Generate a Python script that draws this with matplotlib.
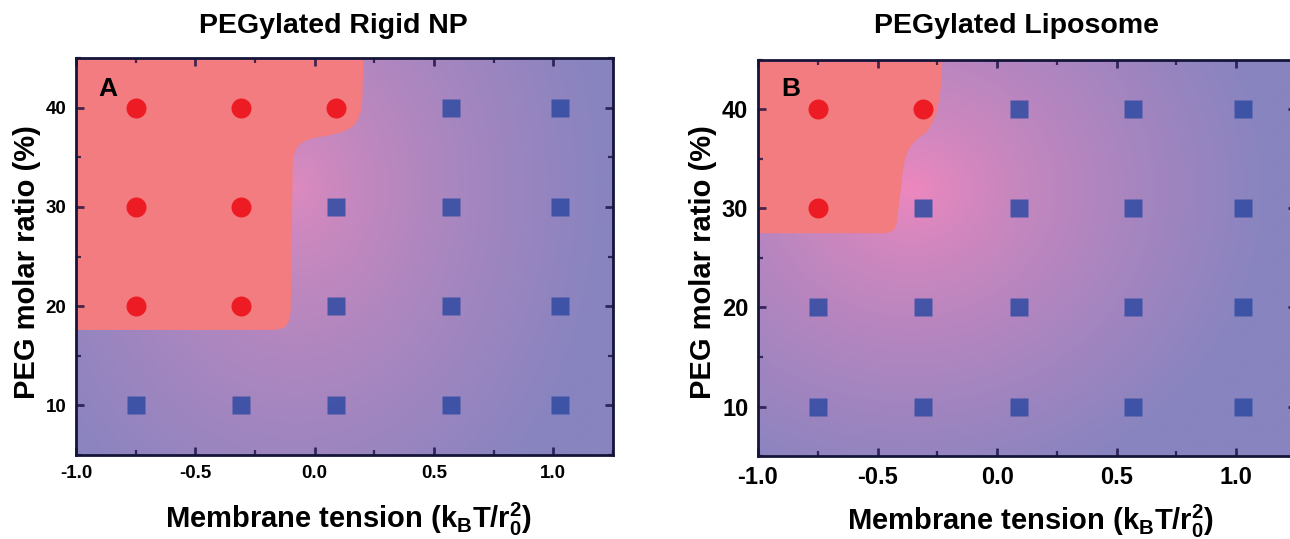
import numpy as np
import matplotlib
matplotlib.use("Agg")
import matplotlib.pyplot as plt
from matplotlib.path import Path
from matplotlib.patches import PathPatch
from matplotlib.ticker import MultipleLocator

# ---------------- data ----------------
tension = [-0.75, -0.31, 0.09, 0.57, 1.03]      # membrane tension (kBT/r0^2)
peg_ratio = [10, 20, 30, 40]                     # PEG molar ratio (%)
# 1 = circle (red), 0 = square (blue); rows follow peg_ratio, columns follow tension
state_rigid = [
    [0, 0, 0, 0, 0],
    [1, 1, 0, 0, 0],
    [1, 1, 0, 0, 0],
    [1, 1, 1, 0, 0],
]
state_lipo = [
    [0, 0, 0, 0, 0],
    [0, 0, 0, 0, 0],
    [1, 0, 0, 0, 0],
    [1, 1, 0, 0, 0],
]
titles = ["PEGylated Rigid NP", "PEGylated Liposome"]
panel_letters = ["A", "B"]
x_ticks = [-1.0, -0.5, 0.0, 0.5, 1.0]
y_ticks = [10, 20, 30, 40]

# phase boundary outlines (data coords) for red region
verts_A = [(-1.05, 45.5), (0.205, 45.5), (0.20, 41.0),
           (0.195, 38.3), (0.16, 37.7), (0.06, 37.2),
           (-0.06, 36.8), (-0.09, 36.4), (-0.092, 34.0),
           (-0.10, 20.0),
           (-0.10, 17.7), (-0.13, 17.6), (-0.20, 17.6),
           (-1.05, 17.6), (-1.05, 45.5)]
codes_A = [Path.MOVETO, Path.LINETO, Path.LINETO,
           Path.CURVE4, Path.CURVE4, Path.CURVE4,
           Path.CURVE4, Path.CURVE4, Path.CURVE4,
           Path.LINETO,
           Path.CURVE4, Path.CURVE4, Path.CURVE4,
           Path.LINETO, Path.CLOSEPOLY]
verts_B = [(-1.05, 45.5), (-0.228, 45.5),
           (-0.235, 41.0), (-0.245, 39.2), (-0.30, 37.6),
           (-0.37, 36.6), (-0.39, 35.5), (-0.40, 32.5),
           (-0.415, 29.5),
           (-0.42, 27.6), (-0.44, 27.5), (-0.49, 27.5),
           (-1.05, 27.5), (-1.05, 45.5)]
codes_B = [Path.MOVETO, Path.LINETO,
           Path.CURVE4, Path.CURVE4, Path.CURVE4,
           Path.CURVE4, Path.CURVE4, Path.CURVE4,
           Path.LINETO,
           Path.CURVE4, Path.CURVE4, Path.CURVE4,
           Path.LINETO, Path.CLOSEPOLY]

# ---------------- style ----------------
plt.rcParams['font.family'] = ['Liberation Sans', 'DejaVu Sans']
plt.rcParams['font.weight'] = 'bold'
plt.rcParams['mathtext.fontset'] = 'custom'
plt.rcParams['mathtext.rm'] = 'Liberation Sans:bold'
plt.rcParams['mathtext.it'] = 'Liberation Sans:bold'
plt.rcParams['mathtext.default'] = 'rm'

W, H = 1290, 539
fig = plt.figure(figsize=(W / 100, H / 100), dpi=100)

RED_BG = '#F27C80'
CIRCLE = '#ED1C24'
SQUARE = (0.20, 0.30, 0.64, 0.88)
TICKC = (0.06, 0.02, 0.22, 0.75)

axes_px = [(76, 613, 58, 455), (758, 1296, 60, 456)]
grad = [dict(c=(-0.08, 32.0), s=(1.3, 40.0), p=0.7, pink=(224, 138, 190)),
        dict(c=(-0.36, 32.0), s=(1.5, 32.0), p=0.75, pink=(240, 136, 190))]
tick_fs = [13.5, 17]
verts_all = [(verts_A, codes_A), (verts_B, codes_B)]
states = [state_rigid, state_lipo]

xlim = (-1.0, 1.25)
ylim = (5, 45)

for i in range(2):
    l, r, t, b = axes_px[i]
    ax = fig.add_axes([l / W, 1 - b / H, (r - l) / W, (b - t) / H])
    ax.set_xlim(*xlim)
    ax.set_ylim(*ylim)

    # gradient background
    gx = np.linspace(xlim[0], xlim[1], 400)
    gy = np.linspace(ylim[0], ylim[1], 300)
    X, Y = np.meshgrid(gx, gy)
    g = grad[i]
    d = np.sqrt(((X - g['c'][0]) / g['s'][0]) ** 2 + ((Y - g['c'][1]) / g['s'][1]) ** 2)
    tt = np.clip(d, 0, 1) ** g['p']
    pink = np.array(g['pink']) / 255.0
    blue = np.array([136, 132, 192]) / 255.0
    img = pink[None, None, :] * (1 - tt[..., None]) + blue[None, None, :] * tt[..., None]
    ax.imshow(img, extent=[xlim[0], xlim[1], ylim[0], ylim[1]], origin='lower',
              aspect='auto', zorder=0, interpolation='bilinear')

    vv, cc = verts_all[i]
    patch = PathPatch(Path(vv, cc), facecolor=RED_BG, edgecolor='none', zorder=1)
    ax.add_patch(patch)

    st = np.array(states[i])
    for ri, yv in enumerate(peg_ratio):
        for ci, xv in enumerate(tension):
            if st[ri, ci] == 1:
                ax.plot(xv, yv, 'o', ms=14.4, color=CIRCLE, mec='none', zorder=3)
            else:
                ax.plot(xv, yv, 's', ms=12.8, color=SQUARE, mec='none', zorder=3)

    ax.set_xticks(x_ticks)
    ax.set_xticklabels(['%.1f' % v for v in x_ticks])
    ax.set_yticks(y_ticks)
    ax.xaxis.set_minor_locator(MultipleLocator(0.25))
    ax.yaxis.set_minor_locator(MultipleLocator(5))
    ax.tick_params(which='both', direction='in', top=True, right=True, color=TICKC)
    ax.tick_params(which='major', length=6, width=2, labelsize=tick_fs[i], pad=7)
    ax.tick_params(which='minor', length=3.5, width=1.6)
    for lab in ax.get_xticklabels() + ax.get_yticklabels():
        lab.set_fontweight('bold')
    for sp in ax.spines.values():
        sp.set_color('#15153a')
        sp.set_linewidth(2)
        sp.set_zorder(5)

    ax.text(0.041 if i == 0 else 0.044, 0.921 if i == 0 else 0.927, panel_letters[i],
            transform=ax.transAxes, fontsize=19, fontweight='bold',
            ha='left', va='center', zorder=6)

# titles and labels as figure text
fig.text(333 / W, 1 - 26 / H, titles[0], ha='center', va='center', fontsize=20.5, fontweight='bold')
fig.text(1016 / W, 1 - 26 / H, titles[1], ha='center', va='center', fontsize=20.5, fontweight='bold')
xlab = r'Membrane tension ($\mathrm{k_B}$T/$\mathrm{r^2_0}$)'
fig.text(348 / W, 1 - 528 / H, xlab, ha='center', va='baseline', fontsize=21, fontweight='bold')
fig.text(1030 / W, 1 - 530 / H, xlab, ha='center', va='baseline', fontsize=21, fontweight='bold')
ylab = 'PEG molar ratio (%)'
fig.text(27 / W, 1 - 262 / H, ylab, rotation=90, ha='center', va='center', fontsize=21, fontweight='bold')
fig.text(703 / W, 1 - 262 / H, ylab, rotation=90, ha='center', va='center', fontsize=21, fontweight='bold')

fig.savefig('out.png', dpi=100)
